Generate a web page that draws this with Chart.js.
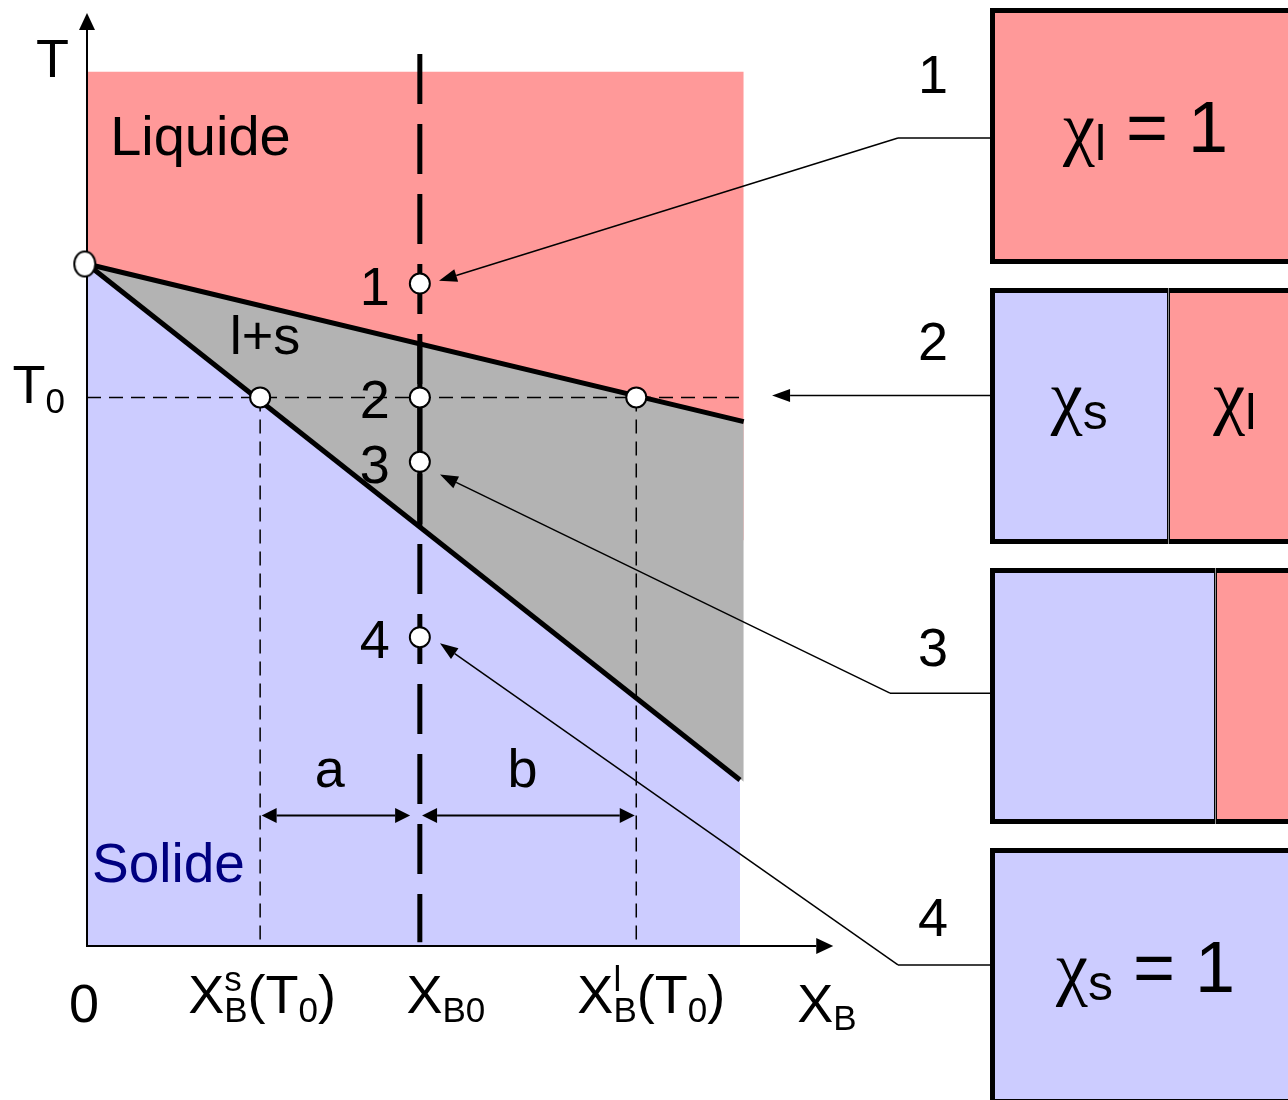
<!DOCTYPE html>
<html>
<head>
<meta charset="utf-8">
<title>Diagramme de phases binaire - règle des leviers</title>
<script src="https://cdn.jsdelivr.net/npm/chart.js@4.4.0/dist/chart.umd.min.js"></script>
<style>
  html, body { margin: 0; padding: 0; background: #ffffff; overflow: hidden; }
  #page { position: relative; width: 1288px; height: 1100px; }
  #diagramme { position: absolute; left: 0; top: 0; }
  #fractions { position: absolute; left: 985px; top: -4px; }
</style>
</head>
<body>
<div id="page">
  <canvas id="diagramme" width="1288" height="1100"></canvas>
  <canvas id="fractions" width="321" height="1120"></canvas>
</div>
<script>
// Diagramme T - X_B (unités réduites : X_B et T entre 0 et 1)
var liquidus = [[0, 0.731], [0.880, 0.562]];
var solidus = [[0, 0.731], [0.875, 0.178]];
var bordDroitBiphase = [[0, 0.731], [0.880, 0.176]];  // limite basse du domaine l+s jusqu'au bord
var liquideHaut = [[0, 0.937], [0.880, 0.937]];
var liquideBas = 0.435;
var T0 = 0.588;
var compositions = [0, 0.232, 0.446, 0.736];          // 0, X_B^s(T0), X_B0, X_B^l(T0)
var etiquettesX = ['0', 'X_B^s(T_0)', 'X_{B0}', 'X_B^l(T_0)'];
var XB0 = compositions[2];
var conodeXB0 = [0.648, 0.449];                       // traversée du domaine l+s en X_B0
var etats = ['1', '2', '3', '4'];
var temperaturesEtats = [0.710, 0.588, 0.519, 0.331];
var fractionSolide = [0, 0.574, 0.725, 1];
var fractionLiquide = [1, 0.426, 0.275, 0];
var etiquettesSolide = ['', 'χ_s', '', 'χ_s = 1'];
var etiquettesLiquide = ['χ_l = 1', 'χ_l', '', ''];

// renvois des boîtes vers les états (le dernier point porte la flèche)
var renvois = [
  [[1.21, 0.866], [1.0867, 0.866], [0.4717, 0.713]],
  [[1.21, 0.590], [0.918, 0.590]],
  [[1.21, 0.271], [1.076, 0.271], [0.473, 0.5054]],
  [[1.21, -0.0203], [1.0867, -0.0203], [0.473, 0.3244]]
];
var numerosRenvois = [0.9143, 0.6285, 0.2998, 0.0107];
var cotes = [['a', 0.234, 0.433], ['b', 0.449, 0.734]];
var yCotes = 0.140;

var ROSE = '#ff9999', BLEU = '#ccccff', GRIS = '#b3b3b3', NOIR = '#000000', MARINE = '#000080';
var POLICE = '"Liberation Sans", Arial, sans-serif';
var SERIF = '"Liberation Serif", "Times New Roman", serif';

// "X_B^s(T_0)" -> morceaux {t, sub, sup}
function analyser(s) {
  var parts = [{t: '', sub: '', sup: ''}], i = 0;
  while (i < s.length) {
    var c = s[i];
    if (c === '_' || c === '^') {
      var g;
      if (s[i + 1] === '{') { var j = s.indexOf('}', i); g = s.slice(i + 2, j); i = j + 1; }
      else { g = s[i + 1]; i += 2; }
      parts[parts.length - 1][c === '_' ? 'sub' : 'sup'] = g;
    } else {
      var last = parts[parts.length - 1];
      if (last.sub || last.sup) { last = {t: '', sub: '', sup: ''}; parts.push(last); }
      last.t += c;
      i++;
    }
  }
  return parts;
}

function police(t, taille) {
  return taille + 'px ' + (/[α-ω]/.test(t) ? SERIF : POLICE);
}

function texteRiche(ctx, s, x, y, o) {
  var parts = analyser(s), larg = 0;
  parts.forEach(function (p) {
    ctx.font = police(p.t, o.taille);
    p.w = ctx.measureText(p.t).width;
    ctx.font = police('', o.petite);
    p.ws = Math.max(p.sub ? ctx.measureText(p.sub).width : 0, p.sup ? ctx.measureText(p.sup).width : 0);
    larg += p.w + p.ws;
  });
  var cx = o.align === 'left' ? x : (o.align === 'right' ? x - larg : x - larg / 2);
  ctx.fillStyle = o.couleur || NOIR;
  ctx.textAlign = 'left';
  ctx.textBaseline = 'alphabetic';
  parts.forEach(function (p) {
    ctx.font = police(p.t, o.taille);
    ctx.fillText(p.t, cx, y);
    cx += p.w;
    ctx.font = police('', o.petite);
    if (p.sub) ctx.fillText(p.sub, cx, y + o.bas);
    if (p.sup) ctx.fillText(p.sup, cx, y + o.haut);
    cx += p.ws;
  });
}

// trait terminé par une pointe pleine en (x2, y2)
function fleche(ctx, x1, y1, x2, y2, lg, demi, double) {
  var a = Math.atan2(y2 - y1, x2 - x1), c = Math.cos(a), s = Math.sin(a);
  var bx = x2 - lg * c, by = y2 - lg * s;
  var ax = double ? x1 + lg * c : x1, ay = double ? y1 + lg * s : y1;
  ctx.beginPath(); ctx.moveTo(ax, ay); ctx.lineTo(bx, by); ctx.stroke();
  pointe(ctx, x2, y2, c, s, lg, demi);
  if (double) pointe(ctx, x1, y1, -c, -s, lg, demi);
}
function pointe(ctx, x, y, c, s, lg, demi) {
  ctx.beginPath();
  ctx.moveTo(x, y);
  ctx.lineTo(x - lg * c - demi * s, y - lg * s + demi * c);
  ctx.lineTo(x - lg * c + demi * s, y - lg * s - demi * c);
  ctx.closePath();
  ctx.fill();
}

function ellipse(rx, ry) {
  var c = document.createElement('canvas');
  c.width = rx * 2 + 4; c.height = ry * 2 + 4;
  var g = c.getContext('2d');
  g.beginPath();
  g.ellipse(rx + 2, ry + 2, rx, ry, 0, 0, 2 * Math.PI);
  g.fillStyle = '#ffffff'; g.fill();
  g.lineWidth = 2; g.strokeStyle = NOIR; g.stroke();
  return c;
}

function ligne(label, pts, extra) {
  return Object.assign({
    label: label,
    data: pts.map(function (p) { return {x: p[0], y: p[1]}; }),
    showLine: true, borderColor: NOIR, borderWidth: 1.5,
    pointRadius: 0, fill: false, clip: false
  }, extra || {});
}

var rond = {showLine: false, pointRadius: 10, pointBorderWidth: 2, pointBackgroundColor: '#ffffff', pointBorderColor: NOIR, clip: false};
var pointille = {borderDash: [14, 8]};
var transparent = 'rgba(0,0,0,0)';

var annotations = [
  {s: 'Liquide', x: 0.031, y: 0.848, align: 'left', taille: 56},
  {s: 'l+s', x: 0.2385, y: 0.635, align: 'center', taille: 54},
  {s: 'T_0', x: -0.0295, y: 0.5824, align: 'right', taille: 54},
  {s: 'Solide', x: 0.0067, y: 0.0685, align: 'left', taille: 55, couleur: MARINE}
];

var decorPlugin = {
  id: 'decor',
  beforeDatasetsDraw: function (chart) {
    var ctx = chart.ctx, sx = chart.scales.x, sy = chart.scales.y;
    var x0 = sx.getPixelForValue(0), y0 = sy.getPixelForValue(0);
    ctx.save();
    ctx.strokeStyle = NOIR; ctx.fillStyle = NOIR; ctx.lineWidth = 2;
    fleche(ctx, x0, y0 + 1, x0, sy.getPixelForValue(1), 17, 8);
    fleche(ctx, x0 - 1, y0, sx.getPixelForValue(1), y0, 17, 8);

    texteRiche(ctx, 'T', x0 - 18, sy.getPixelForValue(1) + 64, {taille: 54, align: 'right'});
    texteRiche(ctx, 'X_B', sx.getPixelForValue(1) - 36, y0 + 76, {taille: 54, petite: 35, bas: 8, align: 'left'});
    var decalagesX = [-3, 2, 26, 15];
    compositions.forEach(function (c, i) {
      texteRiche(ctx, etiquettesX[i], sx.getPixelForValue(c) + decalagesX[i], y0 + (i === 0 ? 76 : 67),
        {taille: 54, petite: 35, bas: 9, haut: -22, align: 'center'});
    });
    annotations.forEach(function (a) {
      texteRiche(ctx, a.s, sx.getPixelForValue(a.x), sy.getPixelForValue(a.y),
        {taille: a.taille, petite: 35, bas: 10, align: a.align, couleur: a.couleur});
    });
    etats.forEach(function (e, i) {
      texteRiche(ctx, e, sx.getPixelForValue(XB0) - 30, sy.getPixelForValue(temperaturesEtats[i]) + 21, {taille: 54, align: 'right'});
      texteRiche(ctx, e, sx.getPixelForValue(1.1336), sy.getPixelForValue(numerosRenvois[i]), {taille: 54, align: 'center'});
    });
    ctx.restore();
  },
  afterDatasetsDraw: function (chart) {
    var ctx = chart.ctx, sx = chart.scales.x, sy = chart.scales.y;
    ctx.save();
    ctx.strokeStyle = NOIR; ctx.fillStyle = NOIR;
    // renvois
    ctx.lineWidth = 1.5;
    renvois.forEach(function (r) {
      var px = r.map(function (p) { return [sx.getPixelForValue(p[0]), sy.getPixelForValue(p[1])]; });
      if (px.length > 2) {
        ctx.beginPath();
        ctx.moveTo(px[0][0], px[0][1]);
        for (var k = 1; k < px.length - 1; k++) ctx.lineTo(px[k][0], px[k][1]);
        ctx.stroke();
      }
      var n = px.length;
      fleche(ctx, px[n - 2][0], px[n - 2][1], px[n - 1][0], px[n - 1][1], 18, 6.5);
    });
    // cotes a et b
    ctx.lineWidth = 2;
    var yc = sy.getPixelForValue(yCotes);
    cotes.forEach(function (c) {
      var xa = sx.getPixelForValue(c[1]), xb = sx.getPixelForValue(c[2]);
      fleche(ctx, xa, yc, xb, yc, 15, 7.5, true);
      texteRiche(ctx, c[0], (xa + xb) / 2 - 6, yc - 28, {taille: 54, align: 'center'});
    });
    ctx.restore();
  }
};

new Chart(document.getElementById('diagramme'), {
  type: 'scatter',
  data: {
    datasets: [
      Object.assign({label: 'Etats', data: temperaturesEtats.map(function (t) { return {x: XB0, y: t}; })}, rond),
      Object.assign({label: 'Conodes', data: [{x: compositions[1], y: T0}, {x: compositions[3], y: T0}]}, rond),
      {label: 'Fusion de A', data: [{x: liquidus[0][0] - 0.003, y: liquidus[0][1]}], pointStyle: ellipse(10.5, 12.5), pointRadius: 12, showLine: false, clip: false},
      ligne('Conode X_B0', [[XB0, conodeXB0[0]], [XB0, conodeXB0[1]]], {borderWidth: 5}),
      ligne('X_B0', [[XB0, 0.956], [XB0, 0.004]], {borderWidth: 5, borderDash: [50, 20]}),
      ligne('Liquidus', liquidus, {borderWidth: 5}),
      ligne('Solidus', solidus, {borderWidth: 5}),
      ligne('T0', [[0, T0], [0.875, T0]], pointille),
      ligne('X_B^s(T0)', [[compositions[1], T0], [compositions[1], 0]], pointille),
      ligne('X_B^l(T0)', [[compositions[3], T0], [compositions[3], 0]], pointille),
      ligne('l+s', liquidus, {borderColor: transparent, borderWidth: 0, fill: '+1', backgroundColor: GRIS}),
      ligne('limite l+s', bordDroitBiphase, {borderColor: transparent, borderWidth: 0}),
      ligne('Solide', solidus, {borderColor: transparent, borderWidth: 0, fill: 'origin', backgroundColor: BLEU}),
      ligne('Liquide', liquideHaut, {borderColor: transparent, borderWidth: 0, fill: {value: liquideBas}, backgroundColor: ROSE})
    ]
  },
  options: {
    responsive: false,
    animation: false,
    events: [],
    layout: {padding: {left: 87, right: 298, top: 12, bottom: 154}},
    scales: {
      x: {type: 'linear', min: 0, max: 1.21, display: false},
      y: {type: 'linear', min: 0, max: 1, display: false}
    },
    plugins: {
      legend: {display: false},
      tooltip: {enabled: false},
      filler: {propagate: false, drawTime: 'beforeDatasetsDraw'}
    }
  },
  plugins: [decorPlugin]
});

// boîtes : fractions de solide et de liquide (règle des leviers)
function bords(autre, cote) {
  return function (ctx) {
    var mixte = autre[ctx.dataIndex] > 0;
    var b = {top: 5, bottom: 5, left: 5, right: 5};
    b[cote] = mixte ? 1.5 : 5;
    return b;
  };
}

var textesBoites = {
  id: 'textesBoites',
  afterDatasetsDraw: function (chart) {
    var ctx = chart.ctx, mS = chart.getDatasetMeta(0), mL = chart.getDatasetMeta(1);
    ctx.save();
    etats.forEach(function (e, i) {
      [[mS, etiquettesSolide[i]], [mL, etiquettesLiquide[i]]].forEach(function (p) {
        if (!p[1]) return;
        var bar = p[0].data[i];
        var dy = p[1].indexOf('=') >= 0 ? 16 : 5;
        texteRiche(ctx, p[1], (bar.base + bar.x) / 2, bar.y + dy, {taille: 72, petite: 50, bas: 8, align: 'center'});
      });
    });
    ctx.restore();
  }
};

new Chart(document.getElementById('fractions'), {
  type: 'bar',
  data: {
    labels: etats,
    datasets: [
      {label: 'χs', data: fractionSolide, backgroundColor: BLEU, borderColor: NOIR, borderSkipped: false, borderWidth: bords(fractionLiquide, 'right')},
      {label: 'χl', data: fractionLiquide, backgroundColor: ROSE, borderColor: NOIR, borderSkipped: false, borderWidth: bords(fractionSolide, 'left')}
    ]
  },
  options: {
    indexAxis: 'y',
    responsive: false,
    animation: false,
    events: [],
    layout: {padding: {left: 5, right: 5, top: 0, bottom: 0}},
    datasets: {bar: {categoryPercentage: 1, barPercentage: 0.914}},
    scales: {
      x: {stacked: true, min: 0, max: 1, display: false},
      y: {stacked: true, display: false}
    },
    plugins: {legend: {display: false}, tooltip: {enabled: false}}
  },
  plugins: [textesBoites]
});
</script>
</body>
</html>
